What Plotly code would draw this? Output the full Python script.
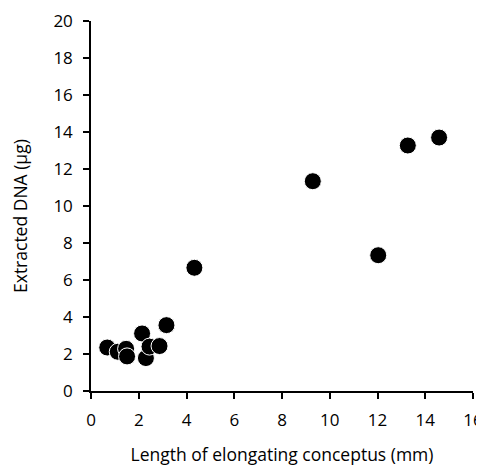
import plotly.graph_objects as go

length_mm = [0.68, 1.12, 1.47, 1.51, 2.14, 2.30, 2.45, 2.87, 3.16, 4.33, 9.29, 12.03, 13.27, 14.58]
dna_ug = [2.35, 2.12, 2.28, 1.87, 3.11, 1.78, 2.40, 2.43, 3.56, 6.66, 11.34, 7.34, 13.27, 13.70]

x_ticks = [0, 2, 4, 6, 8, 10, 12, 14, 16]
y_ticks = [0, 2, 4, 6, 8, 10, 12, 14, 16, 18, 20]
x_title = "Length of elongating conceptus (mm)"
y_title = "Extracted DNA (µg)"

fig = go.Figure(go.Scatter(
    x=length_mm, y=dna_ug, mode="markers",
    marker=dict(color="black", size=17, line=dict(color="white", width=1)),
))

fam = "Open Sans, Noto Sans, sans-serif"
tickfont = dict(family=fam, size=17, color="black")
titlefont = dict(family=fam, size=17.5, color="black")

fig.update_layout(
    width=476, height=458,
    margin=dict(l=83, r=11, t=13, b=75),
    plot_bgcolor="white", paper_bgcolor="white",
    showlegend=False, font=dict(family=fam, size=17, color="black"),
)
common = dict(ticks="outside", ticklen=6, tickwidth=1.5, tickcolor="black",
              showline=True, linecolor="black", linewidth=1.5,
              showgrid=False, zeroline=False, automargin=False,
              tickfont=tickfont, ticklabelstandoff=7, ticklabeloverflow="allow")
fig.update_xaxes(
    range=[0, 16], tickvals=x_ticks, **common,
    title=dict(text=x_title, font=titlefont, standoff=20),
)
fig.update_yaxes(range=[0, 20], tickvals=y_ticks, **common)
fig.add_annotation(
    text=y_title, textangle=-90, font=titlefont, showarrow=False,
    xref="paper", yref="paper", x=0, y=0.5, xanchor="center", yanchor="middle",
    xshift=-71, yshift=-10,
)

fig.write_html("out.html")
